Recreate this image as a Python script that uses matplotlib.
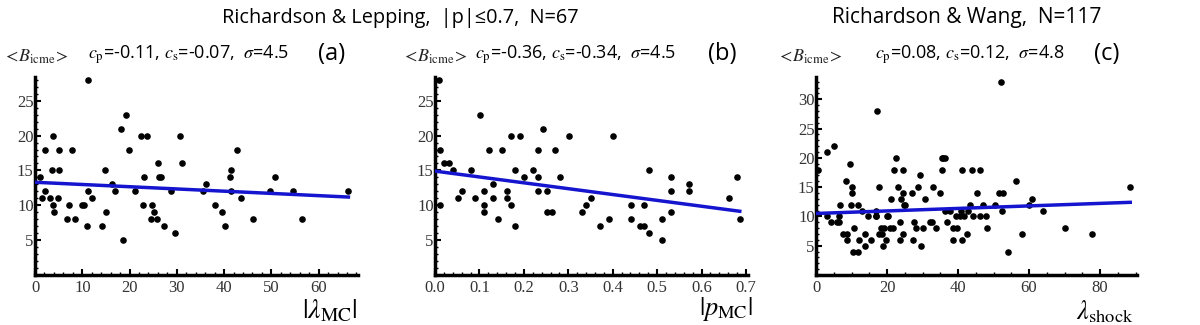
import numpy as np
import matplotlib
matplotlib.use("Agg")
from matplotlib import pyplot as plt
from matplotlib.ticker import MultipleLocator

plt.rcParams['mathtext.fontset'] = 'stix'

# (a) Richardson & Lepping: |lambda_MC| vs <B_icme>
lam_mc = [1, 1.4, 2.2, 2.2, 3.2, 3.6, 3.8, 3.9, 4.1, 4.8, 5.1, 5.1, 6.8, 7.2, 7.9, 8.5,
          9.9, 10.4, 10.9, 11.2, 11.3, 12.1, 14.2, 14.7, 15, 16.2, 16.9, 18.1, 18.7,
          19.3, 19.8, 21.2, 22.4, 22.9, 23.1, 23.6, 24.5, 24.8, 25.1, 25.8, 26, 26.2,
          26.6, 27.3, 28.7, 29.7, 30.6, 31, 35.6, 36.1, 38, 39.5, 40.1, 41.3, 41.5,
          41.5, 42.8, 43.6, 46.2, 49.8, 50.8, 54.5, 56.5, 66.3]
b_a = [14, 11, 18, 12, 11, 15, 20, 10, 9, 11, 18, 15, 8, 10, 18, 8,
       10, 10, 7, 12, 28, 11, 7, 15, 9, 13, 12, 21, 5,
       23, 18, 12, 20, 10, 14, 20, 8, 10, 9, 8, 16, 14,
       14, 7, 12, 6, 20, 16, 12, 13, 10, 9, 7, 14, 15,
       12, 18, 11, 8, 12, 14, 12, 8, 12]
fit_a = [13.3, -0.032]   # intercept, slope

# (b) Richardson & Lepping: |p_MC| vs <B_icme>
p_mc = [0.011, 0.011, 0.01, 0.021, 0.032, 0.041, 0.052, 0.061, 0.082, 0.091, 0.101,
        0.111, 0.111, 0.111, 0.121, 0.131, 0.131, 0.141, 0.151, 0.161, 0.161, 0.171,
        0.171, 0.181, 0.181, 0.191, 0.201, 0.221, 0.231, 0.231, 0.231, 0.242, 0.251,
        0.251, 0.263, 0.271, 0.281, 0.301, 0.331, 0.341, 0.351, 0.371, 0.391, 0.401,
        0.441, 0.441, 0.461, 0.471, 0.471, 0.481, 0.481, 0.511, 0.511, 0.531, 0.531,
        0.531, 0.571, 0.571, 0.661, 0.679, 0.686]
b_b = [18, 10, 28, 16, 16, 15, 11, 12, 15, 11, 23,
       12, 10, 9, 18, 13, 11, 8, 18, 12, 11, 20,
       10, 7, 15, 20, 14, 15, 14, 18, 12, 21, 12,
       9, 9, 18, 14, 20, 9, 10, 11, 7, 8, 20,
       10, 8, 7, 7, 10, 6, 15, 8, 5, 14, 12,
       9, 13, 12, 11, 14, 8]
fit_b = [14.9, -8.4]

# (c) Richardson & Wang: lambda_shock vs <B_icme>
lam_sh = [0.5, 3.2, 3, 4.1, 5.2, 5.8, 6.5, 6.5, 6.8, 7.7, 8.6, 8.5, 8.8, 9.6, 9.9, 10,
          10, 10.3, 10.8, 11.7, 11.9, 12.2, 12.9, 13.8, 13.7, 14.7, 15.4, 16.9, 16.9,
          16.9, 17.3, 17.7, 17.7, 18.2, 18.7, 19, 19.2, 19.6, 19.9, 20.4, 20.8, 21.1,
          21.8, 22, 22.5, 23.2, 23.7, 23.7, 23.9, 24.6, 24.6, 24.9, 25.2, 24.6, 26.9,
          27.2, 27.6, 28.2, 28.8, 29.3, 29.6, 30, 30.7, 32.1, 32.6, 33, 33.8, 34.8,
          35.4, 35.9, 36.3, 35.6, 36.3, 36.8, 37.6, 38.5, 38.7, 39.6, 39.4, 40.6,
          40.8, 41, 41.2, 41.7, 42.4, 42.9, 43.4, 43.9, 44.1, 45.3, 46.2, 46.2, 46.9,
          47.9, 48.1, 50.4, 51.4, 52, 52.3, 52.8, 54.2, 56.2, 58.1, 60.1, 60.9, 63.8,
          70.2, 77.7, 88.5]
b_c = [18, 21, 10, 9, 22, 9, 9, 10, 12, 7, 7, 16, 6, 19, 12, 15,
       14, 4, 8, 12, 4, 6, 11, 5, 7, 10, 6, 10, 11,
       10, 28, 15, 7, 8, 7, 5, 8, 6, 10, 10, 8, 13,
       8, 18, 20, 15, 6, 9, 13, 18, 14, 12, 12, 7, 14,
       6, 9, 8, 15, 17, 5, 8, 13, 9, 9, 15, 8, 14,
       20, 20, 20, 18, 11, 9, 11, 6, 8, 8, 10, 10,
       11, 6, 18, 10, 7, 11, 12, 18, 10, 14, 18, 10, 12,
       10, 8, 12, 14, 33, 11, 14, 4, 16, 7, 12, 13, 11,
       8, 7, 15]
fit_c = [10.5, 0.0215]

titles = ["Richardson & Lepping,  |p|\u22640.7,  N=67", "Richardson & Wang,  N=117"]
stats = [r"$c_{\rm p}$=-0.11, $c_{\rm s}$=-0.07,  $\sigma$=4.5",
         r"$c_{\rm p}$=-0.36, $c_{\rm s}$=-0.34,  $\sigma$=4.5",
         r"$c_{\rm p}$=0.08, $c_{\rm s}$=0.12,  $\sigma$=4.8"]
tags = ["(a)", "(b)", "(c)"]
xlabels = [r"$|\lambda_{\rm MC}|$", r"$|p_{\rm MC}|$", r"$\lambda_{\rm shock}$"]

fig = plt.figure(figsize=(12, 3.25), dpi=100)

boxes = [[0.0292, 0.154, 0.269, 0.609],
         [0.3625, 0.154, 0.261, 0.609],
         [0.680, 0.154, 0.2675, 0.609]]
xlims = [(0, 68.3), (0, 0.705), (0, 90.4)]
ylims = [(0, 28.4), (0, 28.4), (0, 33.8)]
xmaj = [10, 0.1, 20]
xmin = [2, 0.02, 5]
data = [(lam_mc, b_a, fit_a), (p_mc, b_b, fit_b), (lam_sh, b_c, fit_c)]

for i in range(3):
    ax = fig.add_axes(boxes[i])
    x, y, fit = data[i]
    ax.scatter(x, y, s=14, color='black', zorder=3, clip_on=False)
    xs = np.array([0, max(x)])
    ax.plot(xs, fit[0] + fit[1] * xs, color='#1515d0', lw=2.5, zorder=4)
    ax.set_xlim(*xlims[i])
    ax.set_ylim(*ylims[i])
    ax.spines['top'].set_visible(False)
    ax.spines['right'].set_visible(False)
    ax.spines['left'].set_linewidth(2.5)
    ax.spines['bottom'].set_linewidth(2.5)
    ax.xaxis.set_major_locator(MultipleLocator(xmaj[i]))
    ax.xaxis.set_minor_locator(MultipleLocator(xmin[i]))
    ax.yaxis.set_major_locator(MultipleLocator(5))
    ax.yaxis.set_minor_locator(MultipleLocator(1))
    ax.tick_params(which='major', direction='in', length=4, width=1.5,
                   labelsize=12, colors='black', labelcolor='#333333')
    ax.tick_params(which='minor', direction='in', length=2, width=1)
    if i == 1:
        ax.xaxis.set_major_formatter(matplotlib.ticker.FormatStrFormatter('%.1f'))
    else:
        ax.xaxis.set_major_formatter(matplotlib.ticker.FormatStrFormatter('%d'))
    ax.yaxis.set_major_formatter(matplotlib.ticker.FuncFormatter(
        lambda v, p: '' if v == 0 else '%d' % v))
    for lab in ax.get_xticklabels() + ax.get_yticklabels():
        lab.set_family('Liberation Serif')
    ax.tick_params(axis='y', pad=1)

# figure texts
fig.text(400 / 1200, 1 - 18 / 325, titles[0], ha='center', va='center',
         fontsize=14.3, family='Open Sans')
fig.text(967 / 1200, 1 - 18 / 325, titles[1], ha='center', va='center',
         fontsize=15, family='Open Sans')

stat_x = [88, 475, 875]
tag_x = [332, 722, 1107]
lab_x = [3, 402, 777]
for i in range(3):
    fig.text(stat_x[i] / 1200, 1 - 55 / 325, stats[i], ha='left', va='center',
             fontsize=13, family='Open Sans')
    fig.text(tag_x[i] / 1200, 1 - 54 / 325, tags[i], ha='center', va='center',
             fontsize=17, family='Open Sans')
    fig.text(lab_x[i] / 1200, 1 - 57 / 325, r"$<\!B_{\rm icme}\!>$", ha='left',
             va='center', fontsize=13, color='#222222')

fig.text(330 / 1200, 1 - 310 / 325, xlabels[0], ha='center', va='center', fontsize=20)
fig.text(726 / 1200, 1 - 309 / 325, xlabels[1], ha='center', va='center', fontsize=19)
fig.text(1105 / 1200, 1 - 312 / 325, xlabels[2], ha='center', va='center', fontsize=19)

fig.savefig('out.png', dpi=100)
